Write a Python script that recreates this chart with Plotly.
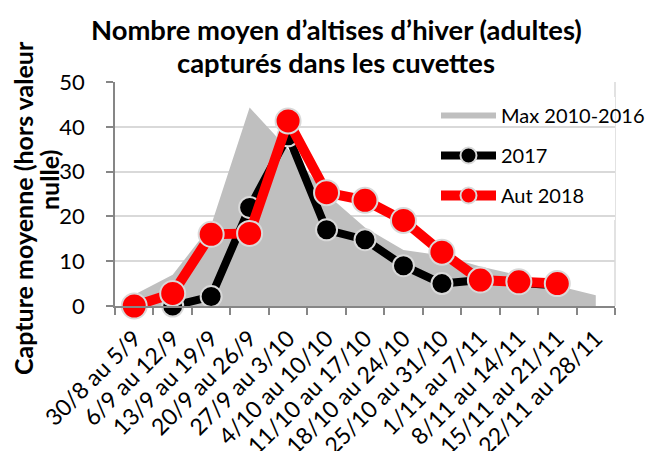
import plotly.graph_objects as go

categories = ["30/8 au 5/9", "6/9 au 12/9", "13/9 au 19/9", "20/9 au 26/9", "27/9 au 3/10",
              "4/10 au 10/10", "11/10 au 17/10", "18/10 au 24/10", "25/10 au 31/10",
              "1/11 au 7/11", "8/11 au 14/11", "15/11 au 21/11", "22/11 au 28/11"]
max_2010_2016 = [2.5, 7.0, 18.0, 44.3, 35.0, 25.0, 17.5, 12.5, 11.3, 8.8, 6.9, 4.5, 2.4]
y2017 = [None, 0.0, 2.1, 22.0, 38.0, 17.0, 14.8, 9.0, 5.0, 5.8, 5.0, 4.6, None]
y2018 = [0.0, 2.8, 16.0, 16.2, 41.3, 25.3, 23.6, 19.1, 12.0, 5.8, 5.4, 5.0, None]
y_ticks = [0, 10, 20, 30, 40, 50]

FONT = "Lato"
OFF = 8  # page body margin
W, H = 655 - OFF, 451 - OFF
# plot area in screen pixels: x 115..615, y 82..306
L, R, T, B = 115 - OFF, 655 - 615, 82 - OFF, 451 - 306
PW, PH = 615 - 115, 306 - 82


def px(x):
    return (x - 115) / PW


def py(y):
    return (306 - y) / PH


fig = go.Figure()
fig.add_trace(go.Scatter(
    x=categories, y=max_2010_2016, name="Max 2010-2016", mode="none",
    fill="tozeroy", fillcolor="#bfbfbf", legendgroup="a"))
fig.add_trace(go.Scatter(
    x=categories, y=y2017, name="2017", mode="lines+markers",
    line=dict(color="black", width=8),
    marker=dict(color="black", size=21, line=dict(color="#d9d9d9", width=2)),
    cliponaxis=False, legendgroup="b"))
fig.add_trace(go.Scatter(
    x=categories, y=y2018, name="Aut 2018", mode="lines+markers",
    line=dict(color="#ff0000", width=10),
    marker=dict(color="#ff0000", size=25, line=dict(color="#d9d9d9", width=2)),
    cliponaxis=False, legendgroup="c"))

fig.add_shape(type="line", xref="x domain", yref="y", x0=1, x1=1, y0=0, y1=50,
              line=dict(color="#d9d9d9", width=1.5), layer="below")
fig.add_shape(type="rect", xref="paper", yref="paper", x0=px(420), x1=1.0,
              y0=py(220), y1=py(97), line=dict(width=0), fillcolor="white", layer="between")

fig.update_layout(
    width=W, height=H,
    margin=dict(l=L, r=R, t=T, b=B, autoexpand=False),
    paper_bgcolor="white", plot_bgcolor="white",
    font=dict(family=FONT, color="black", size=21),
    showlegend=True,
    legend=dict(x=px(436), y=py(96), xanchor="left", yanchor="top", bgcolor="rgba(0,0,0,0)",
                font=dict(size=20), itemwidth=55, tracegroupgap=11, traceorder="grouped"),
    xaxis=dict(type="category", range=[-0.5, 12.5], tickson="boundaries", automargin=False,
               ticks="outside", ticklen=7, tickcolor="#868686", tickwidth=1.5,
               showline=True, linecolor="#868686", linewidth=1.5, showgrid=False,
               tickangle=-45, tickfont=dict(size=23), ticklabelstandoff=8),
    yaxis=dict(range=[0, 50], tickvals=y_ticks, ticks="outside", ticklen=7, automargin=False,
               tickcolor="#868686", tickwidth=1.5, showline=True, linecolor="#868686",
               linewidth=1.5, gridcolor="#d9d9d9", gridwidth=1.5, zeroline=False,
               tickfont=dict(size=22), ticklabelstandoff=17),
    annotations=[
        dict(text="<b>Nombre moyen d’altises d’hiver (adultes)</b>", xref="paper", yref="paper",
             x=px(336), y=py(30), xanchor="center", yanchor="middle", showarrow=False,
             font=dict(size=27.4)),
        dict(text="<b>capturés dans les cuvettes</b>", xref="paper", yref="paper",
             x=px(336), y=py(62), xanchor="center", yanchor="middle", showarrow=False,
             font=dict(size=27.4)),
        dict(text="<b>Capture moyenne (hors valeur</b>", textangle=-90, xref="paper", yref="paper",
             x=px(23), y=py(208), xanchor="center", yanchor="middle", showarrow=False,
             font=dict(size=25)),
        dict(text="<b>nulle)</b>", textangle=-90, xref="paper", yref="paper",
             x=px(49), y=py(180), xanchor="center", yanchor="middle", showarrow=False,
             font=dict(size=25)),
    ],
)
fig.write_html("out.html")
